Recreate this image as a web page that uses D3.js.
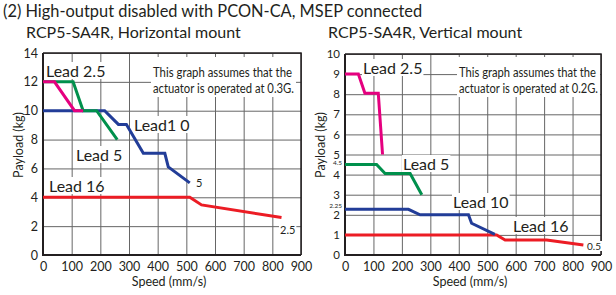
<!DOCTYPE html>
<html>
<head>
<meta charset="utf-8">
<script src="https://cdn.jsdelivr.net/npm/d3@7"></script>
<style>
  body { margin: 0; background: #fff; }
  svg { display: block; font-family: Lato, 'Open Sans', sans-serif; }
</style>
</head>
<body>
<div id="root"></div>
<script>
// ---- data (speed mm/s, payload kg) ----
let xTicks = [0, 100, 200, 300, 400, 500, 600, 700, 800, 900]

// horizontal mount
let hLead25 = [[0, 12], [40, 12], [110, 10], [140, 10]]
let hLead5 = [[0, 12], [105, 12], [140, 10], [187, 10], [259, 8]]
let hLead10 = [[0, 10], [215, 10], [263, 9.05], [291, 9.05], [350, 7.05], [425, 7.05], [437, 6.1], [512, 5]]
let hLead16 = [[0, 4], [512, 4], [553, 3.47], [832, 2.6]]
let hYTicks = [0, 2, 4, 6, 8, 10, 12, 14]

// vertical mount
let vLead25 = [[0, 9], [47, 9], [70, 8.05], [117, 8.05], [132, 5]]
let vLead5 = [[0, 4.5], [111, 4.5], [141, 4.05], [229, 4.05], [270, 3]]
let vLead10 = [[0, 2.27], [223, 2.27], [264, 2], [434, 2], [445, 1.58], [527, 1.03]]
let vLead16 = [[0, 1], [533, 1], [563, 0.75], [709, 0.75], [838, 0.5]]
let vYTicks = [0, 1, 2, 3, 4, 5, 6, 7, 8, 9, 10]
let vYMinor = [2.25, 4.5]

let colors = { l25: '#e5007f', l5: '#00904c', l10: '#223d98', l16: '#ec1c24' }

let W = 616, H = 295
let svg = d3.select('#root').append('svg').attr('width', W).attr('height', H)

svg.append('text').attr('x', 3).attr('y', 17)
   .attr('font-size', 16.4).attr('fill', '#231f20')
   .text('(2) High-output disabled with PCON-CA, MSEP connected')

function labelBox(g, x, y, txt, size, anchor) {
  let t = g.append('text').attr('x', x).attr('y', y)
           .attr('font-size', size).attr('fill', '#231f20')
           .attr('text-anchor', anchor || 'start').text(txt)
  let b = t.node().getBBox()
  g.insert('rect', () => t.node())
   .attr('x', b.x - 1).attr('y', b.y + 1).attr('width', b.width + 2).attr('height', b.height - 2)
   .attr('fill', '#fff')
  return t
}

function styleAxis(a, size) {
  a.attr('font-family', null).attr('font-size', null)
  a.select('.domain').remove()
  a.selectAll('text').attr('font-size', size).attr('fill', '#231f20')
}

function drawChart(cfg) {
  let g = svg.append('g')
  let x = d3.scaleLinear().domain([0, 900]).range(cfg.xr)
  let y = d3.scaleLinear().domain(cfg.yd).range(cfg.yr)

  g.append('text').attr('x', cfg.xr[0] - 17).attr('y', 38)
   .attr('font-size', 16).attr('fill', '#231f20').text(cfg.sub)

  // grid
  g.append('g').attr('transform', `translate(0,${cfg.yr[0]})`)
   .call(d3.axisBottom(x).tickValues(xTicks).tickSize(-(cfg.yr[0] - cfg.yr[1])).tickFormat(''))
   .call(a => a.select('.domain').remove())
   .selectAll('line').attr('stroke', '#666').attr('stroke-width', 1)
  g.append('g').attr('transform', `translate(${cfg.xr[0]},0)`)
   .call(d3.axisLeft(y).tickValues(cfg.grid).tickSize(-(cfg.xr[1] - cfg.xr[0])).tickFormat(''))
   .call(a => a.select('.domain').remove())
   .selectAll('line').attr('stroke', '#666').attr('stroke-width', 1)

  // frame
  g.append('path')
   .attr('d', `M${cfg.xr[0]},${cfg.yr[1]}H${cfg.xr[1]}V${cfg.yr[0]}`)
   .attr('fill', 'none').attr('stroke', '#231f20').attr('stroke-width', 1.5)
  g.append('path')
   .attr('d', `M${cfg.xr[0]},${cfg.yr[1]}V${cfg.yr[0]}H${cfg.xr[1]}`)
   .attr('fill', 'none').attr('stroke', '#231f20').attr('stroke-width', 2)

  // tick labels
  g.append('g').attr('transform', `translate(0,${cfg.yr[0]})`)
   .call(d3.axisBottom(x).tickValues(xTicks).tickSize(0).tickPadding(7))
   .call(a => styleAxis(a, 12.5))
  g.append('g').attr('transform', `translate(${cfg.xr[0]},0)`)
   .call(d3.axisLeft(y).tickValues(cfg.yTicks).tickSize(0).tickPadding(5).tickFormat(d => d))
   .call(a => styleAxis(a, cfg.minor ? 11.5 : 12.5))
  if (cfg.minor) {
    g.append('g').attr('transform', `translate(${cfg.xr[0]},0)`)
     .call(d3.axisLeft(y).tickValues(cfg.minor).tickSize(0).tickPadding(3).tickFormat(d => d))
     .call(a => styleAxis(a, 6.5))
     .selectAll('text').attr('dy', d => d < 3 ? '-0.35em' : '0.05em')
  }

  // axis titles
  g.append('text').attr('x', (cfg.xr[0] + cfg.xr[1]) / 2 - 3).attr('y', 286)
   .attr('text-anchor', 'middle').attr('font-size', 12.5).attr('fill', '#231f20')
   .text('Speed (mm/s)')
  g.append('text')
   .attr('transform', `translate(${cfg.xr[0] - 20},145) rotate(-90)`)
   .attr('text-anchor', 'middle').attr('font-size', 12.5).attr('fill', '#231f20')
   .text('Payload (kg)')

  // note box
  let nb = cfg.note
  g.append('rect').attr('x', nb.x).attr('y', 57).attr('width', nb.w).attr('height', 40).attr('fill', '#fff')
  nb.lines.forEach((s, i) => {
    g.append('text').attr('x', nb.x + 2).attr('y', 77 + i * 16)
     .attr('font-size', 12.5).attr('fill', '#231f20')
     .attr('textLength', nb.w - 4 - (i === 0 ? 2 : 0)).attr('lengthAdjust', 'spacingAndGlyphs')
     .text(s)
  })

  // series
  let line = d3.line().x(d => x(d[0])).y(d => y(d[1]))
  cfg.series.forEach(s => {
    g.append('path').datum(s.data).attr('d', line)
     .attr('fill', 'none').attr('stroke', s.color).attr('stroke-width', 3)
     .attr('stroke-linejoin', 'miter')
  })

  cfg.labels.forEach(l => labelBox(g, l[0], l[1], l[2], l[3], l[4]))
}

drawChart({
  sub: 'RCP5-SA4R, Horizontal mount',
  xr: [43, 301], yd: [0, 14], yr: [255, 53],
  grid: hYTicks, yTicks: hYTicks,
  note: { x: 151, w: 145, lines: ['This graph assumes that the', 'actuator is operated at 0.3G.'] },
  series: [
    { data: hLead16, color: colors.l16 },
    { data: hLead10, color: colors.l10 },
    { data: hLead5, color: colors.l5 },
    { data: hLead25, color: colors.l25 }
  ],
  labels: [
    [46, 77, 'Lead 2.5', 16],
    [134, 131, 'Lead1 0', 16],
    [76, 161, 'Lead 5', 16],
    [49, 192, 'Lead 16', 16],
    [196, 187, '5', 11],
    [280, 234, '2.5', 11]
  ]
})

drawChart({
  sub: 'RCP5-SA4R, Vertical mount',
  xr: [345, 601], yd: [0, 10], yr: [255, 54],
  grid: vYTicks, yTicks: vYTicks, minor: vYMinor,
  note: { x: 457, w: 143, lines: ['This graph assumes that the', 'actuator is operated at 0.2G.'] },
  series: [
    { data: vLead16, color: colors.l16 },
    { data: vLead10, color: colors.l10 },
    { data: vLead5, color: colors.l5 },
    { data: vLead25, color: colors.l25 }
  ],
  labels: [
    [363, 74, 'Lead 2.5', 16],
    [403, 170, 'Lead 5', 16],
    [453, 208, 'Lead 10', 16],
    [513, 232, 'Lead 16', 16],
    [587, 250, '0.5', 10]
  ]
})
</script>
</body>
</html>
